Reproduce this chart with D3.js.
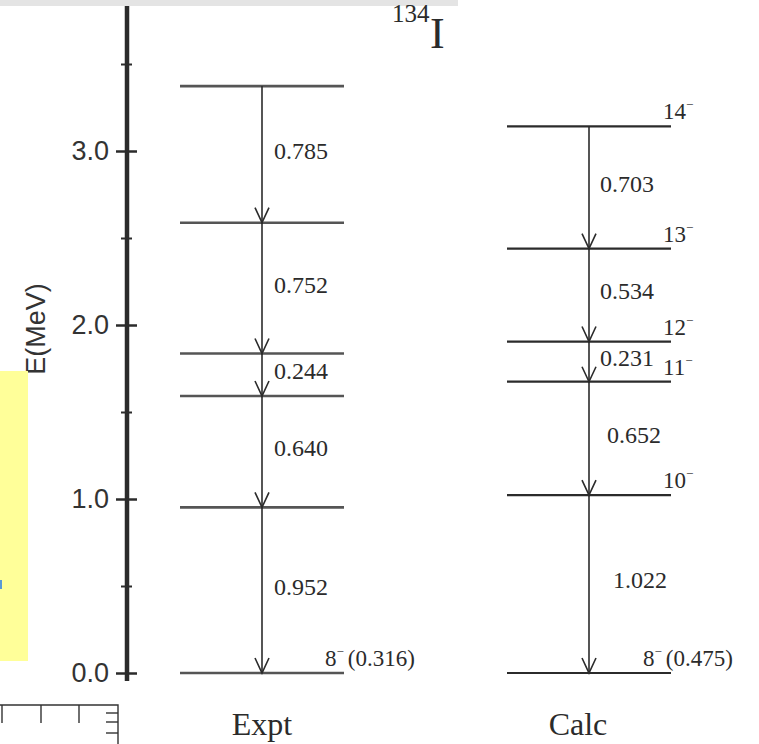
<!DOCTYPE html>
<html>
<head>
<meta charset="utf-8">
<script src="https://cdn.jsdelivr.net/npm/d3@7"></script>
<style>
  html, body { margin: 0; padding: 0; background: #fff; }
  svg { display: block; }
</style>
</head>
<body>
<svg id="chart" width="759" height="744"></svg>
<script>
// Level energies (MeV) and gamma transitions for 134I
const schemes = ["Expt", "Calc"];
const exptLevels = [0.000, 0.952, 1.592, 1.836, 2.588, 3.373];
const calcLevels = [0.000, 1.022, 1.674, 1.905, 2.439, 3.142];
const exptGammas = ["0.952", "0.640", "0.244", "0.752", "0.785"];
const calcGammas = ["1.022", "0.652", "0.231", "0.534", "0.703"];
const calcSpins = ["8", "10", "11", "12", "13", "14"];
const exptBandHead = ["8", "(0.316)"];
const calcBandHead = ["8", "(0.475)"];
const yTicks = [0, 1, 2, 3];
const yTickLabels = ["0.0", "1.0", "2.0", "3.0"];
const yMinorTicks = [0.5, 1.5, 2.5, 3.5];

const svg = d3.select("#chart");
const ink = "#2b2b2b";
const serif = "'Liberation Serif', 'Times New Roman', serif";
const sans = "'Liberation Sans', Arial, Helvetica, sans-serif";

const y = d3.scaleLinear().domain([0, 3.8]).range([673, 11.8]);
const x = d3.scalePoint().domain(schemes).range([262, 589]);
const halfWidth = 82;

// frame strip along the top edge
svg.append("rect").attr("x", 0).attr("y", 0).attr("width", 458).attr("height", 6).attr("fill", "#e4e4e4");

// energy axis
const axisX = 127;
svg.append("line").attr("x1", axisX).attr("x2", axisX).attr("y1", 6).attr("y2", 681)
  .attr("stroke", ink).attr("stroke-width", 4.5);

const axis = d3.axisLeft(y).tickValues(yTicks)
  .tickFormat((d, i) => yTickLabels[i]).tickSizeInner(11).tickSizeOuter(0).tickPadding(7);
const gAxis = svg.append("g").attr("transform", `translate(${axisX},0)`).call(axis);
gAxis.select(".domain").remove();
gAxis.selectAll(".tick line").attr("x1", -11).attr("x2", 10).attr("stroke", ink).attr("stroke-width", 2.5);
gAxis.selectAll(".tick text").attr("font-family", sans).attr("font-size", 27).attr("fill", "#333");

const minor = d3.axisLeft(y).tickValues(yMinorTicks).tickFormat("").tickSizeInner(5).tickSizeOuter(0);
const gMinor = svg.append("g").attr("transform", `translate(${axisX},0)`).call(minor);
gMinor.select(".domain").remove();
gMinor.selectAll(".tick line").attr("x1", -6).attr("x2", 5).attr("stroke", ink).attr("stroke-width", 2);

svg.append("text")
  .attr("transform", `translate(45,329) rotate(-90)`)
  .attr("text-anchor", "middle")
  .attr("font-family", sans).attr("font-size", 27).attr("fill", "#333")
  .text("E(MeV)");

// note box at the left margin
svg.append("rect").attr("x", 0).attr("y", 371).attr("width", 28).attr("height", 290).attr("fill", "#ffff99");
svg.append("rect").attr("x", 0).attr("y", 580).attr("width", 2).attr("height", 9).attr("fill", "#5a9ad6");

// title
const title = svg.append("text").attr("font-family", serif).attr("fill", ink);
title.append("tspan").attr("x", 392).attr("y", 22).attr("font-size", 25).text("134");
title.append("tspan").attr("x", 430).attr("y", 48).attr("font-size", 44).text("I");

// scheme labels
svg.selectAll("text.scheme").data(schemes).join("text")
  .attr("class", "scheme")
  .attr("x", (d, i) => x(d) + (i === 0 ? 0 : -11))
  .attr("y", 735)
  .attr("text-anchor", "middle")
  .attr("font-family", serif).attr("font-size", 32).attr("fill", ink)
  .text(d => d);

function drawScheme(name, levels, gammas, labelNudge) {
  const cx = x(name);
  const g = svg.append("g");
  g.selectAll("line.level").data(levels).join("line")
    .attr("class", "level")
    .attr("x1", cx - halfWidth).attr("x2", cx + halfWidth)
    .attr("y1", d => y(d)).attr("y2", d => y(d))
    .attr("stroke", name === "Expt" ? "#555" : ink)
    .attr("stroke-width", name === "Expt" ? 2.6 : 2.2);

  const trans = levels.slice(1).map((e, i) => ({ from: e, to: levels[i], label: gammas[i], i }));
  g.selectAll("line.gamma").data(trans).join("line")
    .attr("class", "gamma")
    .attr("x1", cx).attr("x2", cx)
    .attr("y1", d => y(d.from)).attr("y2", d => y(d.to))
    .attr("stroke", ink).attr("stroke-width", 1.6);
  g.selectAll("path.head").data(trans).join("path")
    .attr("class", "head")
    .attr("d", d => {
      const t = y(d.to);
      return `M${cx - 7},${t - 15} L${cx},${t} L${cx + 7},${t - 15}`;
    })
    .attr("fill", "none").attr("stroke", ink).attr("stroke-width", 1.6);
  g.selectAll("text.gl").data(trans).join("text")
    .attr("class", "gl")
    .attr("x", d => cx + labelNudge[d.i])
    .attr("y", d => (y(d.from) + y(d.to)) / 2 - 4)
    .attr("dy", "0.35em")
    .attr("font-family", serif).attr("font-size", 24).attr("fill", ink)
    .text(d => d.label);
}

drawScheme("Expt", exptLevels, exptGammas, [12, 12, 12, 12, 12]);
drawScheme("Calc", calcLevels, calcGammas, [24, 18, 11, 11, 11]);

// spin labels with superscript parity sign
function spinLabel(sx, sy, spin, extra) {
  const t = svg.append("text").attr("x", sx).attr("y", sy)
    .attr("font-family", serif).attr("font-size", 23).attr("fill", ink);
  t.append("tspan").text(spin);
  t.append("tspan").attr("font-size", 13).attr("dy", -10).text("\u2212");
  if (extra) t.append("tspan").attr("dy", 10).attr("dx", 4).text(extra);
}

const calcRight = x("Calc") + halfWidth;
calcSpins.forEach((s, i) => {
  if (i === 0) return;
  spinLabel(calcRight - 8, y(calcLevels[i]) - 7, s);
});
spinLabel(x("Expt") + 63, y(0) - 7, exptBandHead[0], exptBandHead[1]);
spinLabel(x("Calc") + 54, y(0) - 7, calcBandHead[0], calcBandHead[1]);

// ruler fragment in the lower-left corner
const ruler = svg.append("g").attr("stroke", "#333").attr("stroke-width", 1.4).attr("fill", "none");
ruler.append("path").attr("d", "M0,705 H118 V744");
[2, 41, 79].forEach(px => ruler.append("line").attr("x1", px).attr("x2", px).attr("y1", 705).attr("y2", 723));
[713, 722, 733].forEach(py => ruler.append("line").attr("x1", 106).attr("x2", 118).attr("y1", py).attr("y2", py));
</script>
</body>
</html>
